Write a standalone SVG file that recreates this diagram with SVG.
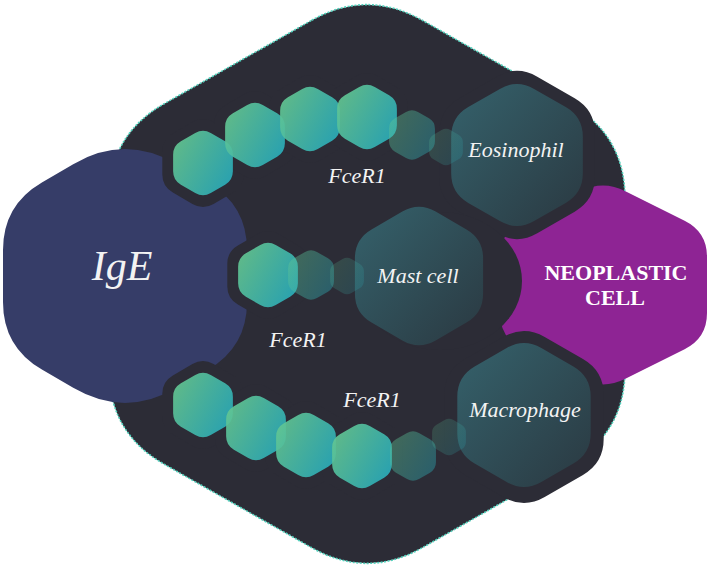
<svg xmlns="http://www.w3.org/2000/svg" width="709" height="570" viewBox="0 0 709 570">
<defs>
<path id="hx" d="M22.5,-87 L64.1,-63 Q86.6,-50 86.6,-24 L86.6,24 Q86.6,50 64.1,63 L22.5,87 Q0,100 -22.5,87 L-64.1,63 Q-86.6,50 -86.6,24 L-86.6,-24 Q-86.6,-50 -64.1,-63 L-22.5,-87 Q0,-100 22.5,-87 Z"/>
<linearGradient id="gg" x1="0" y1="0.2" x2="1" y2="0.8"><stop offset="0" stop-color="#64c690"/><stop offset="1" stop-color="#28abbb"/></linearGradient>
<linearGradient id="bgr" x1="0" y1="0" x2="1" y2="1"><stop offset="0" stop-color="#376f79"/><stop offset="1" stop-color="#2a3c44"/></linearGradient>
</defs>
<style>
.halo{fill:#2c2c36}
.g{fill:url(#gg);opacity:.92}
.f1{fill:url(#gg);opacity:.4}
.f2{fill:url(#gg);opacity:.2}
.big{fill:url(#bgr);opacity:.8}
.lbl{font-family:"Liberation Serif",serif;font-style:italic;fill:#f3f3f3;text-anchor:middle;font-size:22px}
.bold{font-family:"Liberation Serif",serif;font-weight:bold;fill:#ffffff;text-anchor:middle;font-size:22px}
</style>
<g id="background">
<path d="M311.7,20.3 Q367,-11 422.3,20.3 L569.7,103.7 Q625,135 625,198.5 L625,369.5 Q625,433 569.7,464.3 L422.3,547.7 Q367,579 311.7,547.7 L164.3,464.3 Q109,433 109,369.5 L109,198.5 Q109,135 164.3,103.7 Z" fill="#2c2c36" stroke="#52d2bd" stroke-width="1.6" stroke-dasharray="2 1.5"/>
</g>
<g id="IgE">
<path d="M73.2,164.2 Q125,134 176.8,164.2 L208.1,182.4 Q247,205 247,250 L247,302 Q247,347 208.1,369.6 L176.8,387.8 Q125,418 73.2,387.8 L41.9,369.6 Q3,347 3,302 L3,250 Q3,205 41.9,182.4 Z" fill="#363d68"/>
</g>
<g id="neoplastic-cell">
<path d="M580.6,191.2 Q603,180 625.4,191.2 L684.6,220.8 Q707,232 707,257 L707,313 Q707,338 684.6,349.2 L625.4,378.8 Q603,390 580.6,378.8 L522.4,349.2 Q500,338 500,313 L500,257 Q500,232 522.4,220.8 Z" fill="#8e2494"/>
</g>
<g id="halos">
<use href="#hx" class="halo" transform="translate(517,155) scale(0.9)"/>
<ellipse class="halo" cx="440" cy="281" rx="82" ry="69"/>
<use href="#hx" class="halo" transform="translate(524,417) scale(0.92)"/>
<use href="#hx" class="halo" transform="translate(203,163) scale(0.47)"/>
<use href="#hx" class="halo" transform="translate(255,135) scale(0.47)"/>
<use href="#hx" class="halo" transform="translate(310,119) scale(0.47)"/>
<use href="#hx" class="halo" transform="translate(367,117) scale(0.47)"/>
<use href="#hx" class="halo" transform="translate(268,275) scale(0.47)"/>
<use href="#hx" class="halo" transform="translate(203,405) scale(0.47)"/>
<use href="#hx" class="halo" transform="translate(256,428) scale(0.47)"/>
<use href="#hx" class="halo" transform="translate(306,445) scale(0.47)"/>
<use href="#hx" class="halo" transform="translate(362,456) scale(0.47)"/>
</g>
<g id="eosinophil">
<use href="#hx" class="big" transform="translate(517,155) scale(0.76)"/>
</g>
<g id="mast-cell">
<use href="#hx" class="big" transform="translate(419,276) scale(0.74)"/>
</g>
<g id="macrophage">
<use href="#hx" class="big" transform="translate(524,415) scale(0.77)"/>
</g>
<g id="connectors">
<g id="chain-top">
<use href="#hx" class="g" transform="translate(203,163) scale(0.345)"/>
<use href="#hx" class="g" transform="translate(255,135) scale(0.345)"/>
<use href="#hx" class="g" transform="translate(310,119) scale(0.345)"/>
<use href="#hx" class="g" transform="translate(367,117) scale(0.345)"/>
<use href="#hx" class="f1" transform="translate(412,135) scale(0.265)"/>
<use href="#hx" class="f2" transform="translate(446,147) scale(0.195)"/>
</g>
<g id="chain-middle">
<use href="#hx" class="g" transform="translate(268,275) scale(0.345)"/>
<use href="#hx" class="f1" transform="translate(311,275) scale(0.265)"/>
<use href="#hx" class="f2" transform="translate(347,276) scale(0.195)"/>
</g>
<g id="chain-bottom">
<use href="#hx" class="g" transform="translate(203,405) scale(0.345)"/>
<use href="#hx" class="g" transform="translate(256,428) scale(0.345)"/>
<use href="#hx" class="g" transform="translate(306,445) scale(0.345)"/>
<use href="#hx" class="g" transform="translate(362,456) scale(0.345)"/>
<use href="#hx" class="f1" transform="translate(413,456) scale(0.265)"/>
<use href="#hx" class="f2" transform="translate(449,437) scale(0.195)"/>
</g>
</g>
<g id="labels">
<text class="lbl" x="122" y="280" style="font-size:42px">IgE</text>
<text class="lbl" x="357" y="183">FceR1</text>
<text class="lbl" x="298" y="347">FceR1</text>
<text class="lbl" x="372" y="407">FceR1</text>
<text class="lbl" x="516" y="157">Eosinophil</text>
<text class="lbl" x="418" y="283">Mast cell</text>
<text class="lbl" x="525" y="417">Macrophage</text>
<text class="bold" x="616" y="280">NEOPLASTIC</text>
<text class="bold" x="615" y="305">CELL</text>
</g>
</svg>
